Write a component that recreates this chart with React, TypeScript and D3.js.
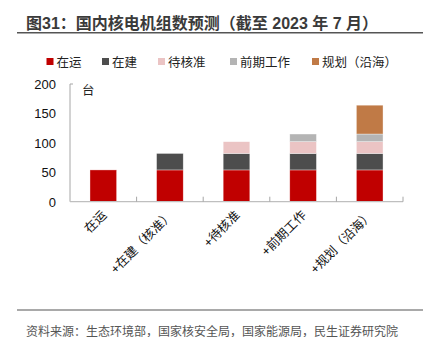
import React from "react";
import * as d3 from "d3";

const categories = ["在运", "+在建（核准）", "+待核准", "+前期工作", "+规划（沿海）"];
const seriesNames = ["在运", "在建", "待核准", "前期工作", "规划（沿海）"];
const seriesColors = ["#C00000", "#4D4D4D", "#EBC4C4", "#B4B4B4", "#C07A46"];
// values per series per category
const operating = [54, 54, 54, 54, 54];
const underConstruction = [0, 28, 28, 28, 28];
const pendingApproval = [0, 0, 20, 20, 20];
const preliminary = [0, 0, 0, 13, 13];
const planned = [0, 0, 0, 0, 49];
const yTicks = [0, 50, 100, 150, 200];

const FONT = "'Liberation Sans', Arial, 'Noto Sans CJK SC', sans-serif";

export default function App() {
  const W = 435, H = 345;
  const left = 70, right = 403, top = 84, bottom = 201.7;
  const x = d3.scaleBand<string>().domain(categories).range([left, right]).paddingInner(0).paddingOuter(0);
  const y = d3.scaleLinear().domain([0, 200]).range([bottom, top]);
  const seriesData = [operating, underConstruction, pendingApproval, preliminary, planned];
  const rows = categories.map((c, i) => {
    const r: any = { cat: c };
    seriesNames.forEach((s, j) => (r[s] = seriesData[j][i]));
    return r;
  });
  const stacked = d3.stack<any>().keys(seriesNames)(rows);
  const bw = x.bandwidth() * 0.4;

  const legendX = [46.5, 102, 158, 230, 312];

  return (
    <div style={{ margin: -8 }}>
      <svg width={W} height={H} style={{ display: "block", background: "#fff" }} fontFamily={FONT}>
        <text x={26} y={29} fontSize={16} fontWeight="bold" fill="#3a3a3a">图31：国内核电机组数预测（截至 2023 年 7 月）</text>
        <line x1={17} x2={423} y1={32.7} y2={32.7} stroke="#555" strokeWidth={1.5} />

        {seriesNames.map((s, i) => (
          <g key={s}>
            <rect x={legendX[i]} y={58} width={7} height={7} fill={seriesColors[i]} />
            <text x={legendX[i] + 10} y={66.5} fontSize={12.5} fill="#222">{s}</text>
          </g>
        ))}

        {yTicks.map((t) => (
          <text key={t} x={56} y={y(t) + 5} fontSize={13} textAnchor="end" fill="#111">{t}</text>
        ))}
        <text x={82} y={95} fontSize={12.5} fill="#222">台</text>

        {stacked.map((layer, li) =>
          layer.map((d, i) =>
            d[1] - d[0] > 0 ? (
              <rect
                key={li + "-" + i}
                x={(x(categories[i]) as number) + (x.bandwidth() - bw) / 2}
                y={y(d[1])}
                width={bw}
                height={y(d[0]) - y(d[1])}
                fill={seriesColors[li]}
                stroke="#fff"
                strokeOpacity={0.6}
                strokeWidth={0.6}
              />
            ) : null
          )
        )}

        <line x1={left} x2={left} y1={top} y2={bottom} stroke="#A6A6A6" strokeWidth={1} />
        <line x1={left} x2={left + 3} y1={top} y2={top} stroke="#A6A6A6" strokeWidth={1} />
        <line x1={left} x2={right} y1={bottom} y2={bottom} stroke="#BFBFBF" strokeWidth={1.2} />
        {categories.map((c, i) => (
          <line key={"t" + i} x1={(x(c) as number) + x.bandwidth()} x2={(x(c) as number) + x.bandwidth()} y1={bottom - 5} y2={bottom} stroke="#A6A6A6" />
        ))}

        {categories.map((c) => {
          const cx = (x(c) as number) + x.bandwidth() / 2 + 4;
          const cy = 216;
          return (
            <text key={c} transform={`translate(${cx},${cy}) rotate(-45)`} textAnchor="end" fontSize={12.5} fill="#111">{c}</text>
          );
        })}

        <line x1={17} x2={423} y1={310} y2={310} stroke="#555" strokeWidth={1.2} />
        <text x={26} y={336} fontSize={12} fill="#555">资料来源：生态环境部，国家核安全局，国家能源局，民生证券研究院</text>
      </svg>
    </div>
  );
}
